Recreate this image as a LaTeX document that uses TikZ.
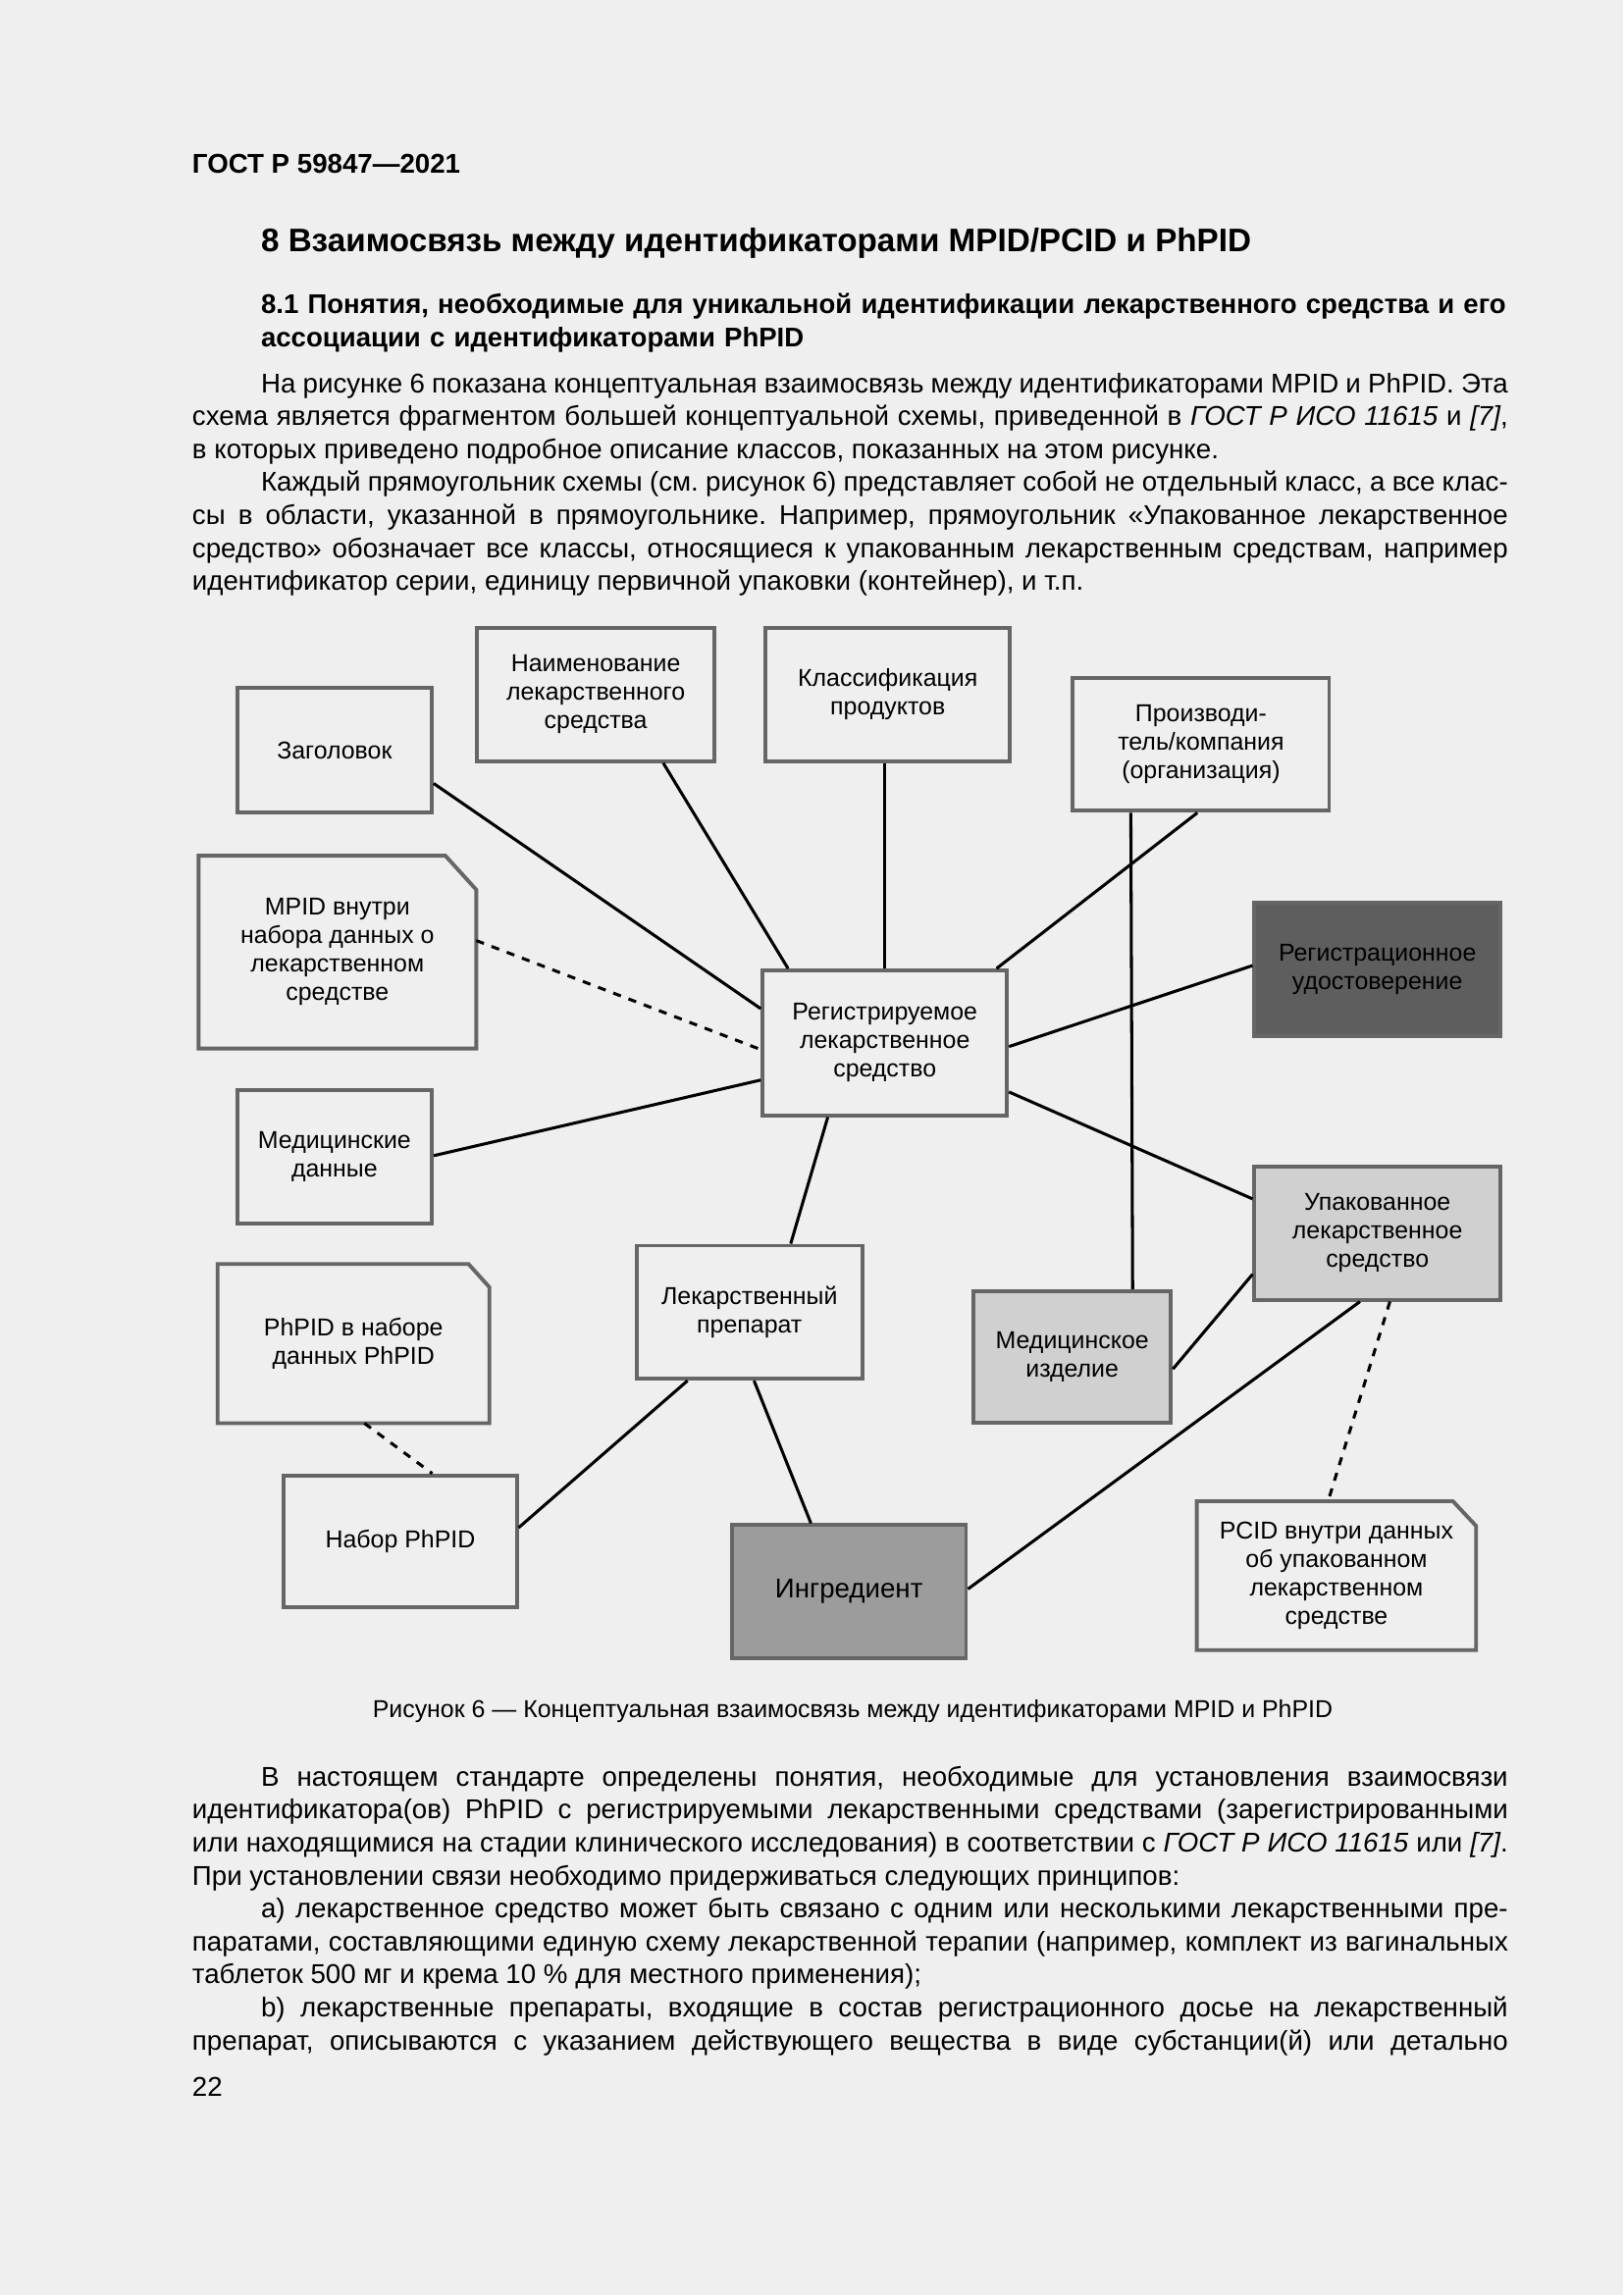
\documentclass[tikz,border=0pt]{standalone}
\usepackage{fontspec}
\setmainfont{Liberation Sans}
\usetikzlibrary{calc}
\definecolor{pagebg}{HTML}{EFEFEF}
\definecolor{boxgray}{HTML}{666666}
\definecolor{darkfill}{HTML}{5E5E5E}
\definecolor{midfill}{HTML}{9C9C9C}
\definecolor{lightfill}{HTML}{D0D0D0}
\newlength{\firstind}
\setlength{\firstind}{0.89cm}
\frenchspacing
\tikzset{
  box/.style={draw=boxgray, line width=1.4pt, fill=pagebg, align=center, inner sep=2pt,
    font=\fontsize{9}{10.5}\selectfont},
  notebox/.style={align=center, inner sep=2pt, font=\fontsize{9}{10.5}\selectfont},
  noteline/.style={draw=boxgray, line width=1.4pt, fill=pagebg},
  link/.style={line width=1.1pt, black},
  dlink/.style={link, dashed},
  para/.style={anchor=north west, inner sep=0pt, text width=17.02cm, align=justify,
    font=\fontsize{10}{12.15}\selectfont}
}
\begin{document}
\begin{tikzpicture}[x=0.018936cm, y=-0.018936cm]
\fill[pagebg] (0,0) rectangle (1109,1568);
\useasboundingbox (0,0) rectangle (1109,1568);

% page text
\node[anchor=west, inner sep=0pt, font=\bfseries\fontsize{10}{12}\selectfont] (gost) at (131,112) {ГОСТ Р 59847—2021};
\node[anchor=west, inner sep=0pt, font=\bfseries\fontsize{12}{14}\selectfont] (sect) at (178,166) {8 Взаимосвязь между идентификаторами MPID/PCID и PhPID};
\node[anchor=north west, inner sep=0pt, text width=16.45cm, align=left, font=\bfseries\fontsize{9.95}{12.15}\selectfont] (subsect) at (178,198)
  {\strut 8.1 Понятия, необходимые для уникальной идентификации лекарственного средства и его\\ ассоциации с идентификаторами PhPID};
\node[para] (textup) at (131,252) {\strut\hspace*{\firstind}На рисунке 6 показана концептуальная взаимосвязь между идентификаторами MPID и PhPID. Эта\linebreak
  схема является фрагментом большей концептуальной схемы, приведенной в \textit{ГОСТ Р ИСО 11615} и \textit{[7]},\linebreak
  в которых приведено подробное описание классов, показанных на этом рисунке.\par
  \hspace*{\firstind}Каждый прямоугольник схемы (см. рисунок 6) представляет собой не отдельный класс, а все клас-\linebreak
  сы в области, указанной в прямоугольнике. Например, прямоугольник «Упакованное лекарственное\linebreak
  средство» обозначает все классы, относящиеся к упакованным лекарственным средствам, например\linebreak
  идентификатор серии, единицу первичной упаковки (контейнер), и т.п.};

% boxes
\node[box, minimum width=2.518cm, minimum height=1.610cm] (zag) at (228.5,512.5) {Заголовок};
\node[box, minimum width=3.068cm, minimum height=1.723cm] (naim) at (407,474.5) {Наименование\\лекарственного\\средства};
\node[box, minimum width=3.162cm, minimum height=1.723cm] (klass) at (606.5,474.5) {Классификация\\продуктов};
\node[box, minimum width=3.314cm, minimum height=1.723cm] (proizv) at (820.5,508.5) {Производи-\\тель/компания\\(организация)};
\node[notebox, minimum width=3.579cm, minimum height=2.481cm] (mpid) at (230.5,650.5) {};
\draw[noteline] (mpid.south west) -- (mpid.north west) -- ([xshift=-0.40cm]mpid.north east)
  -- ([yshift=-0.44cm]mpid.north east) -- (mpid.south east) -- cycle;
\node[notebox] at (mpid) {MPID внутри\\набора данных о\\лекарственном\\средстве};
\node[box, minimum width=3.162cm, minimum height=1.875cm] (reg) at (604.5,712.5) {Регистрируемое\\лекарственное\\средство};
\node[box, fill=darkfill, minimum width=3.181cm, minimum height=1.723cm] (regud) at (941,662.5) {Регистрационное\\удостоверение};
\node[box, minimum width=2.518cm, minimum height=1.723cm] (meddan) at (228.5,790.5) {Медицинские\\данные};
\node[box, fill=lightfill, minimum width=3.181cm, minimum height=1.723cm] (upak) at (941,842.5) {Упакованное\\лекарственное\\средство};
\node[box, minimum width=2.916cm, minimum height=1.723cm] (lekprep) at (512,896.5) {Лекарственный\\препарат};
\node[box, fill=lightfill, minimum width=2.556cm, minimum height=1.704cm] (medizd) at (732.5,927) {Медицинское\\изделие};
\node[notebox, minimum width=3.503cm, minimum height=2.045cm] (phpid) at (241.5,918) {};
\draw[noteline] (phpid.south west) -- (phpid.north west) -- ([xshift=-0.27cm]phpid.north east)
  -- ([yshift=-0.30cm]phpid.north east) -- (phpid.south east) -- cycle;
\node[notebox] at (phpid) {PhPID в наборе\\данных PhPID};
\node[box, minimum width=3.011cm, minimum height=1.704cm] (nabor) at (273.5,1053) {Набор PhPID};
\node[box, fill=midfill, font=\fontsize{10}{12}\selectfont, minimum width=3.030cm, minimum height=1.723cm] (ingr) at (580,1087.5) {Ингредиент};
\node[notebox, minimum width=3.598cm, minimum height=1.913cm] (pcid) at (913,1076.5) {};
\draw[noteline] (pcid.south west) -- (pcid.north west) -- ([xshift=-0.30cm]pcid.north east)
  -- ([yshift=-0.32cm]pcid.north east) -- (pcid.south east) -- cycle;
\node[notebox] at (pcid) {PCID внутри данных\\об упакованном\\лекарственном\\средстве};

% connectors
\draw[link] ($(zag.north east)!0.76!(zag.south east)$) -- ($(reg.north west)!0.27!(reg.south west)$);
\draw[link] ($(naim.south west)!0.78!(naim.south east)$) -- ($(reg.north west)!0.11!(reg.north east)$);
\draw[link] (reg.north) -- (reg.north |- klass.south);
\draw[link] ($(proizv.south west)!0.486!(proizv.south east)$) -- ($(reg.north west)!0.95!(reg.north east)$);
\draw[dlink] ($(mpid.north east)!0.44!(mpid.south east)$) -- ($(reg.north west)!0.545!(reg.south west)$);
\draw[link] ($(reg.north east)!0.525!(reg.south east)$) -- ($(regud.north west)!0.47!(regud.south west)$);
\draw[link] ($(reg.north west)!0.75!(reg.south west)$) -- ($(meddan.north east)!0.49!(meddan.south east)$);
\draw[link] ($(reg.north east)!0.83!(reg.south east)$) -- ($(upak.north west)!0.25!(upak.south west)$);
\draw[link] ($(reg.south west)!0.27!(reg.south east)$) -- ($(lekprep.north west)!0.68!(lekprep.north east)$);
\draw[link] ($(proizv.south west)!0.23!(proizv.south east)$) -- ($(medizd.north west)!0.8!(medizd.north east)$);
\draw[link] ($(medizd.north east)!0.59!(medizd.south east)$) -- ($(upak.north west)!0.8!(upak.south west)$);
\draw[link] ($(upak.south west)!0.43!(upak.south east)$) -- ($(ingr.north east)!0.48!(ingr.south east)$);
\draw[dlink] ($(upak.south west)!0.55!(upak.south east)$) -- ($(pcid.north west)!0.47!(pcid.north east)$);
\draw[link] ($(lekprep.south west)!0.52!(lekprep.south east)$) -- ($(ingr.north west)!0.34!(ingr.north east)$);
\draw[link] ($(lekprep.south west)!0.23!(lekprep.south east)$) -- ($(nabor.north east)!0.4!(nabor.south east)$);
\draw[dlink] ($(phpid.south west)!0.54!(phpid.south east)$) -- ($(nabor.north west)!0.635!(nabor.north east)$);

% caption and text below
\node[inner sep=0pt, font=\fontsize{9}{11}\selectfont] (caption) at (582.5,1169) {Рисунок 6 — Концептуальная взаимосвязь между идентификаторами MPID и PhPID};
\node[para] (textdown) at (131,1204) {\strut\hspace*{\firstind}В настоящем стандарте определены понятия, необходимые для установления взаимосвязи\linebreak
  идентификатора(ов) PhPID с регистрируемыми лекарственными средствами (зарегистрированными\linebreak
  или находящимися на стадии клинического исследования) в соответствии с \textit{ГОСТ Р ИСО 11615} или \textit{[7]}.\linebreak
  При установлении связи необходимо придерживаться следующих принципов:\par
  \hspace*{\firstind}a) лекарственное средство может быть связано с одним или несколькими лекарственными пре-\linebreak
  паратами, составляющими единую схему лекарственной терапии (например, комплект из вагинальных\linebreak
  таблеток 500 мг и крема 10~\% для местного применения);\par
  \hspace*{\firstind}b) лекарственные препараты, входящие в состав регистрационного досье на лекарственный\linebreak
  препарат, описываются с указанием действующего вещества в виде субстанции(й) или детально\parfillskip=0pt\par};
\node[anchor=west, inner sep=0pt, font=\fontsize{10}{12}\selectfont] (pagenum) at (131,1426) {22};
\end{tikzpicture}
\end{document}
